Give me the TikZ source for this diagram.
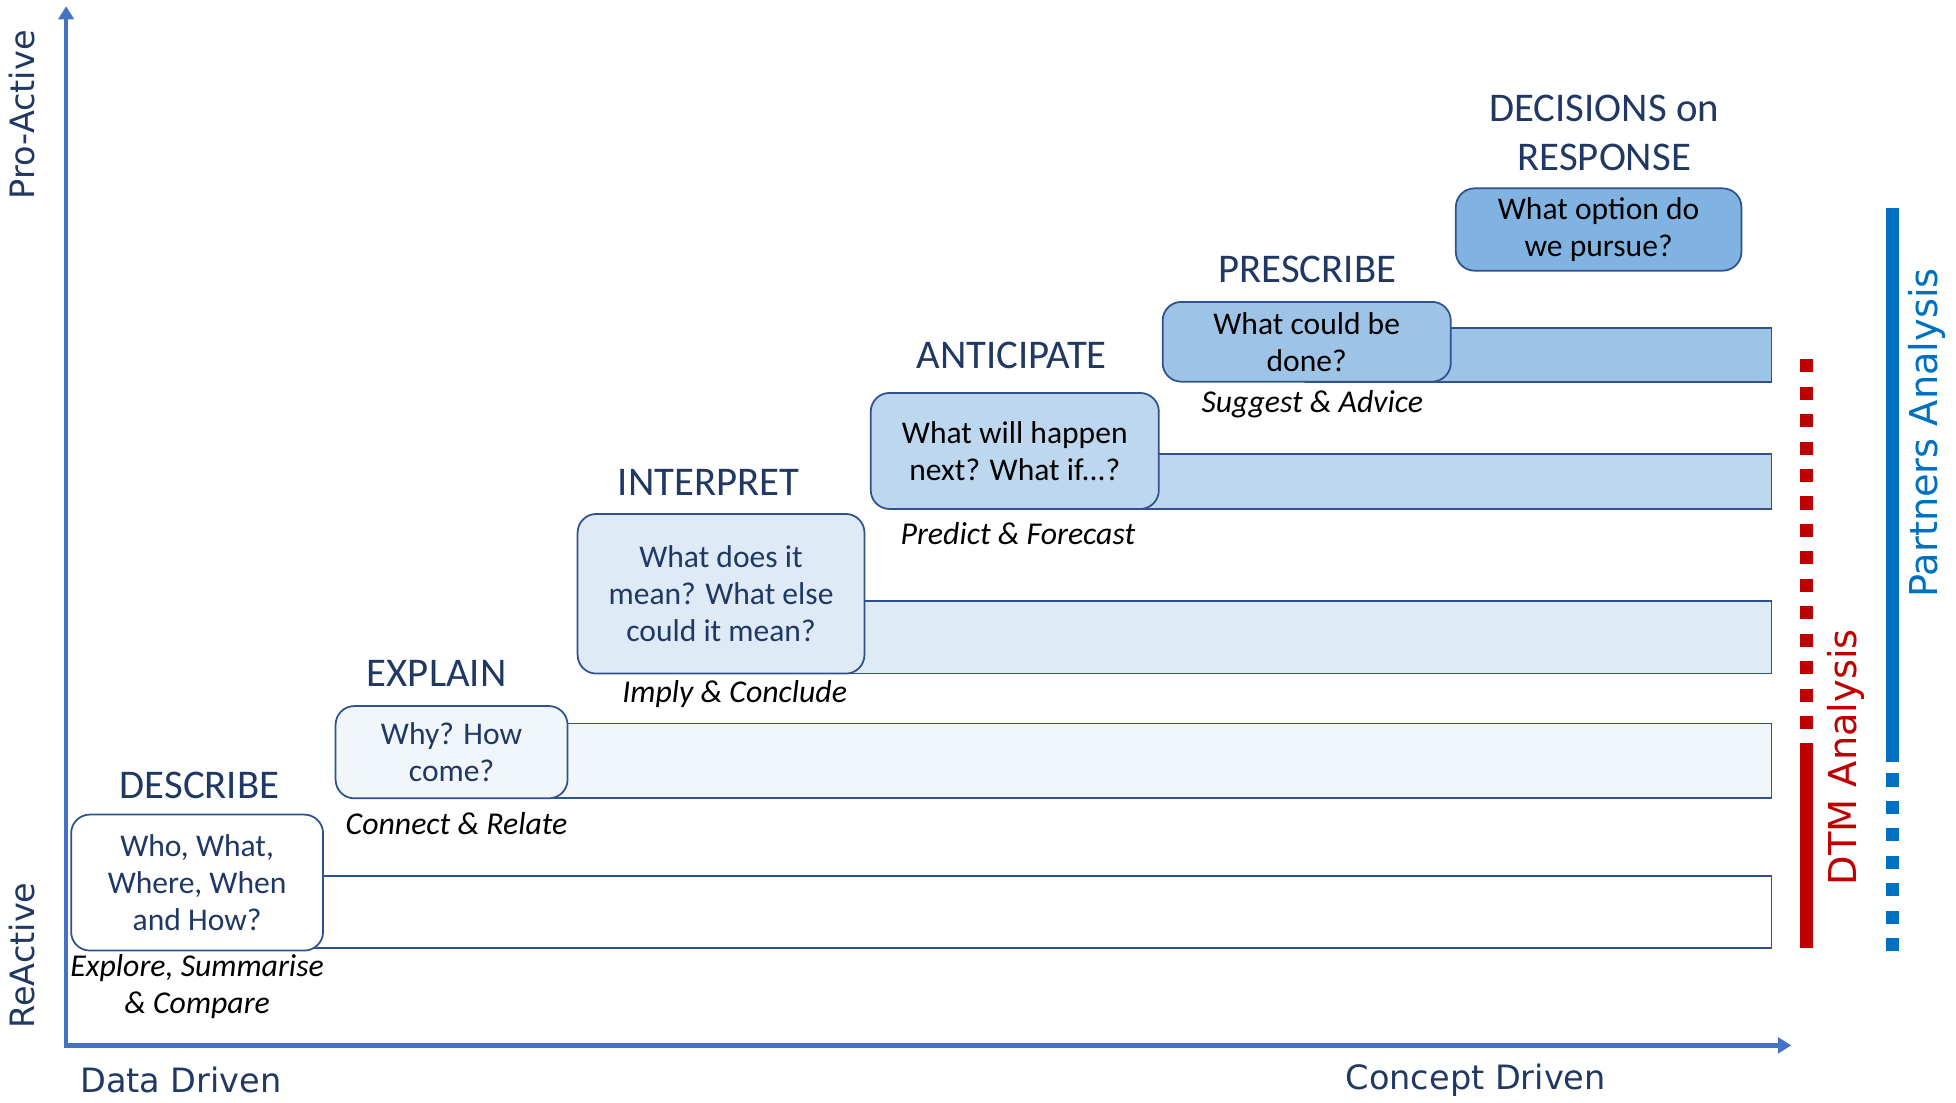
\documentclass[tikz,border=0pt]{standalone}
\usepackage{fontspec}
\setmainfont{Carlito}
\newfontfamily\handfont{DejaVu Sans}
\usetikzlibrary{arrows.meta}
\definecolor{navy}{HTML}{1F3864}
\definecolor{edgeblue}{HTML}{2F528F}
\definecolor{axisblue}{HTML}{4472C4}
\definecolor{tintA}{HTML}{F1F6FB}
\definecolor{tintB}{HTML}{DEEAF6}
\definecolor{tintC}{HTML}{BDD7EE}
\definecolor{tintD}{HTML}{9DC3E6}
\definecolor{tintE}{HTML}{80B3E1}
\definecolor{dtmred}{HTML}{C00000}
\definecolor{partblue}{HTML}{0070C0}
\tikzset{
  question/.style={draw=edgeblue, line width=0.8pt, rounded corners=0.3cm,
    align=center, inner sep=0pt, font=\fontsize{14.4}{17}\selectfont},
  stage/.style={text=navy, align=center, font=\fontsize{18.6}{22}\selectfont},
  skill/.style={align=center, font=\fontsize{14.5}{17}\selectfont\itshape},
  band/.style={draw=edgeblue, line width=0.8pt},
  axislabel/.style={text=navy, font=\handfont\fontsize{15.3}{18}\selectfont},
  sidelabel/.style={rotate=90, font=\handfont\fontsize{17.5}{20}\selectfont},
  sideline/.style={line width=0.2cm},
  dotline/.style={line width=0.2cm, dash pattern=on 0.21cm off 0.23cm},
}
\begin{document}
\begin{tikzpicture}[x=0.02cm, y=-0.02cm]
\useasboundingbox (0,0) rectangle (1568,884);

% axes
\coordinate (ytop) at (53,5);
\coordinate (origin) at (53,838);
\coordinate (xend) at (1436,838);
\draw[axisblue, line width=2pt, {Triangle[width=7pt,length=6pt]}-{Triangle[width=7pt,length=6pt]}]
  (ytop) -- (origin) -- (xend);
\node[axislabel, rotate=90] (proactive) at (18,92) {Pro-Active};
\node[axislabel, rotate=90] (reactive) at (18,766) {ReActive};
\node[axislabel] (datadriven) at (145,866) {Data Driven};
\node[axislabel] (conceptdriven) at (1183,866) {Concept Driven};

% bands
\draw[band, fill=white] (158,702) rectangle (1420,760);
\draw[band, fill=tintA] (362,580) rectangle (1420,640);
\draw[band, fill=tintB] (578,482) rectangle (1420,540);
\draw[band, fill=tintC] (813,364) rectangle (1420,408);
\draw[band, fill=tintD] (1047,263) rectangle (1420,306);

% question boxes
\node[question, fill=white, text=navy, minimum width=4.04cm, minimum height=2.18cm]
  (describe) at (158,707.5) {Who, What,\\Where, When\\and How?};
\node[question, fill=tintA, text=navy, minimum width=3.72cm, minimum height=1.48cm]
  (explain) at (362,603) {Why? How\\come?};
\node[question, fill=tintB, text=navy, minimum width=4.6cm, minimum height=2.56cm]
  (interpret) at (578,476) {What does it\\mean? What else\\could it mean?};
\node[question, fill=tintC, minimum width=4.62cm, minimum height=1.86cm]
  (anticipate) at (813.5,361.5) {What will happen\\next? What if...?};
\node[question, fill=tintD, minimum width=4.62cm, minimum height=1.28cm]
  (prescribe) at (1047.5,274) {What could be\\done?};
\node[question, fill=tintE, minimum width=4.58cm, minimum height=1.32cm]
  (decisions) at (1281.5,184) {What option do\\we pursue?};

% stage titles
\node[stage] (describeT) at (160,630) {DESCRIBE};
\node[stage] (explainT) at (350,540) {EXPLAIN};
\node[stage] (interpretT) at (568,387) {INTERPRET};
\node[stage] (anticipateT) at (811,285) {ANTICIPATE};
\node[stage] (prescribeT) at (1048,216) {PRESCRIBE};
\node[stage] (decisionsT) at (1286,106.5) {DECISIONS on\\RESPONSE};

% skills
\node[skill] (describeS) at (158,791) {Explore, Summarise\\\& Compare};
\node[skill] (explainS) at (366,660) {Connect \& Relate};
\node[skill] (interpretS) at (589,556) {Imply \& Conclude};
\node[skill] (anticipateS) at (816,428) {Predict \& Forecast};
\node[skill] (prescribeS) at (1052,324) {Suggest \& Advice};

% analysis ranges
\coordinate (dtmtop) at (1448,288);
\coordinate (dtmmid) at (1448,605);
\coordinate (dtmbot) at (1448,760);
\draw[dotline, dtmred] (dtmtop) -- (dtmmid);
\draw[sideline, dtmred] (dtmmid) -- (dtmbot);
\node[sidelabel, text=dtmred] (dtm) at (1480,607) {DTM Analysis};
\coordinate (parttop) at (1517,167);
\coordinate (partmid) at (1517,611);
\coordinate (partbot) at (1517,762);
\draw[sideline, partblue] (parttop) -- (partmid);
\draw[dotline, partblue] ([yshift=-0.18cm]partmid) -- (partbot);
\node[sidelabel, text=partblue] (partners) at (1545,347) {Partners Analysis};
\end{tikzpicture}
\end{document}
